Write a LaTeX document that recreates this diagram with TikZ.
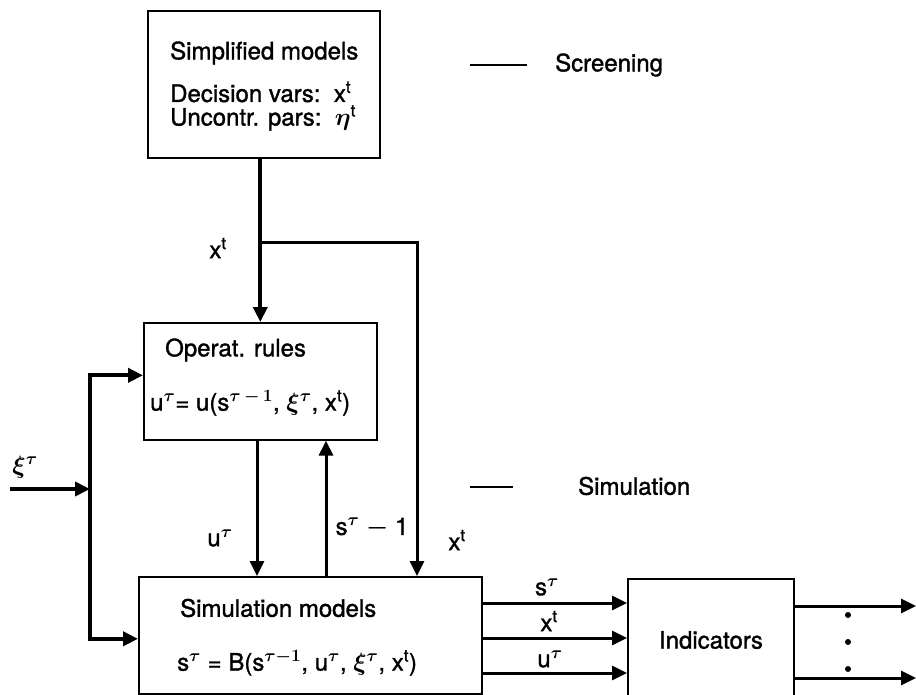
\documentclass[tikz,border=0pt]{standalone}
\usepackage{fontspec}
\setmainfont{TeX Gyre Heros}[BoldFont={TeX Gyre Heros},BoldFeatures={FakeBold=1.3}]
\usetikzlibrary{arrows.meta}
\newcommand\supt{\textsuperscript{t}}
\newcommand\suptau{$^{\boldsymbol{\tau}}$}
\usepackage{amsmath}
\begin{document}
\begin{tikzpicture}[x=1pt,y=-1pt,
  box/.style={draw,line width=1.6pt,inner sep=0pt},
  lbl/.style={font=\fontsize{24}{28}\selectfont\bfseries,inner sep=0pt},
  heavy/.style={line width=3.8pt},
  medium/.style={line width=3pt},
  ar/.style={-{Triangle[length=15pt,width=14pt]}}]
\useasboundingbox (0,0) rectangle (916,695);
% boxes
\node[box,minimum width=232pt,minimum height=147pt,anchor=north west] (T) at (147,10) {};
\node[box,minimum width=233pt,minimum height=117pt,anchor=north west] (O) at (143,322) {};
\node[box,minimum width=343pt,minimum height=117pt,anchor=north west] (S) at (138,576) {};
\node[box,minimum width=166pt,minimum height=127pt,anchor=north west] (I) at (627,578) {};
% box texts
\node[lbl,anchor=west] (t1) at (170,53) {Simplified models};
\node[lbl,anchor=west] (t2) at (170,92) {Decision vars:\ \ x\supt};
\node[lbl,anchor=west] (t3) at (170,118) {Uncontr. pars:\ \ $\boldsymbol{\eta}$\supt};
\node[lbl,anchor=west] (o1) at (165,350) {Operat. rules};
\node[lbl,anchor=west] (o2) at (150,403) {u\suptau= u(s$^{\boldsymbol{\tau\,-\,1}}$, $\boldsymbol{\xi}$\suptau, x\supt)};
\node[lbl,anchor=west] (s1) at (180,608) {Simulation models};
\node[lbl,anchor=west] (s2) at (177,663) {s\suptau\ = B(s$^{\boldsymbol{\tau-1}}$, u\suptau, $\boldsymbol{\xi}$\suptau, x\supt)};
\node[lbl] (i1) at (711,640) {Indicators};
% legend
\coordinate (scA) at (470,65); \coordinate (scB) at (527,65);
\draw[line width=2pt] (scA) -- (scB);
\node[lbl,anchor=west] (scr) at (555,65) {Screening};
\coordinate (siA) at (470,487); \coordinate (siB) at (513,487);
\draw[line width=2pt] (siA) -- (siB);
\node[lbl,anchor=west] (sim) at (578,486) {Simulation};
% x^t from simplified models
\draw[heavy,ar] (O.north |- T.south) -- (O.north);
\coordinate (br) at (259.5,243);
\coordinate (xr) at (417,243);
\draw[medium,ar] (br) -- (xr) -- (xr |- S.north);
\node[lbl] (lx1) at (218,248) {x\supt};
\node[lbl] (lx2) at (457,540) {x\supt};
% u and s between operat and simulation
\coordinate (ux) at (257,439);
\draw[medium,ar] (ux) -- (ux |- S.north);
\coordinate (sx) at (326,576);
\draw[medium,ar] (sx) -- (sx |- O.south);
\node[lbl] (lu) at (220,538) {u\suptau};
\node[lbl] (ls) at (372,528) {s\suptau\ $\boldsymbol{-}$ 1};
% xi input
\coordinate (xiin) at (10,489);
\coordinate (xiv) at (90,489);
\draw[heavy,ar] (xiin) -- (xiv);
\draw[heavy,ar] (xiv) |- ([yshift=6pt]O.west);
\draw[heavy,ar] (xiv) |- ([yshift=-3.5pt]S.west);
\node[lbl] (lxi) at (25,467) {$\boldsymbol{\xi}$\suptau};
% outputs to indicators
\coordinate (r1) at (0,603); \coordinate (r2) at (0,638); \coordinate (r3) at (0,673);
\draw[medium,ar] (S.east |- r1) -- (I.west |- r1);
\draw[medium,ar] (S.east |- r2) -- (I.west |- r2);
\draw[medium,ar] (S.east |- r3) -- (I.west |- r3);
\node[lbl] (ls2) at (547,587) {s\suptau};
\node[lbl] (lx3) at (549,621) {x\supt};
\node[lbl] (lu2) at (550,659) {u\suptau};
% outputs of indicators
\coordinate (q1) at (916,606); \coordinate (q2) at (916,678);
\draw[medium,ar] (I.east |- q1) -- (q1);
\draw[medium,ar] (I.east |- q2) -- (q2);
\fill (848,615) circle (3pt);
\fill (848,642) circle (3pt);
\fill (848,669) circle (3pt);
\end{tikzpicture}
\end{document}
